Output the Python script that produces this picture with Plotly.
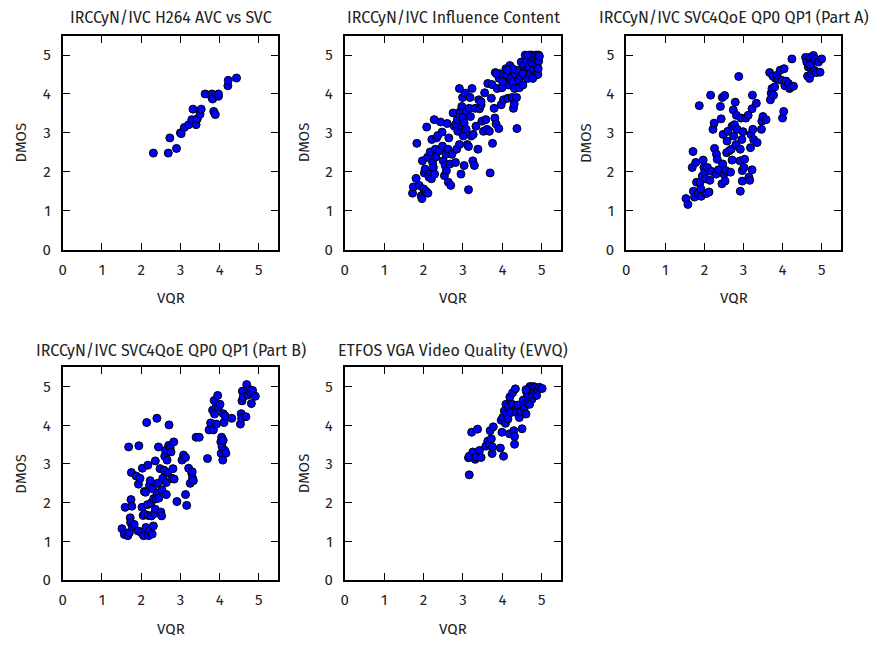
import plotly.graph_objects as go

titles = [
    "IRCCyN/IVC H264 AVC vs SVC",
    "IRCCyN/IVC Influence Content",
    "IRCCyN/IVC SVC4QoE QP0 QP1 (Part A)",
    "IRCCyN/IVC SVC4QoE QP0 QP1 (Part B)",
    "ETFOS VGA Video Quality (EVVQ)",
]
tick_vals = [0, 1, 2, 3, 4, 5]
x_label = "VQR"
y_label = "DMOS"

# Panel 1: IRCCyN/IVC H264 AVC vs SVC
p1_vqr = [2.31, 2.69, 2.73, 2.90, 3.00, 3.02, 3.10, 3.21, 3.29, 3.32, 3.40, 3.43, 3.50, 3.53,
          3.63, 3.80, 3.80, 3.82, 3.85, 3.89, 3.97, 3.97, 4.21, 4.22, 4.43]
p1_dmos = [2.48, 2.48, 2.87, 2.60, 3.00, 2.98, 3.14, 3.21, 3.34, 3.61, 3.21, 3.36, 3.48, 3.61,
           4.00, 4.00, 3.91, 3.87, 3.55, 3.47, 3.94, 4.00, 4.21, 4.35, 4.41]

# Panel 2: IRCCyN/IVC Influence Content
p2_vqr = [1.72, 1.74, 1.81, 1.83, 1.89, 1.94, 1.96, 1.97, 2.00, 2.02, 2.04, 2.06, 2.08, 2.10,
          2.11, 2.13, 2.14, 2.17, 2.20, 2.21, 2.23, 2.25, 2.27, 2.28, 2.30, 2.31, 2.33, 2.36,
          2.40, 2.43, 2.47, 2.48, 2.50, 2.53, 2.55, 2.57, 2.58, 2.60, 2.62, 2.64, 2.63, 2.67,
          2.69, 2.72, 2.75, 2.78, 2.81, 2.82, 2.84, 2.86, 2.87, 2.91, 2.91, 2.93, 2.95, 2.97,
          2.97, 2.99, 2.99, 3.01, 3.03, 3.03, 3.06, 3.08, 3.09, 3.11, 3.14, 3.14, 3.16, 3.18,
          3.19, 3.21, 3.23, 3.25, 3.26, 3.29, 3.31, 3.33, 3.38, 3.40, 3.42, 3.46, 3.48, 3.52,
          3.55, 3.58, 3.61, 3.63, 3.67, 3.69, 3.72, 3.74, 3.75, 3.79, 3.81, 3.82, 3.84, 3.87,
          3.91, 3.92, 3.94, 3.97, 3.99, 4.03, 4.06, 4.09, 4.13, 4.14, 4.16, 4.19, 4.22, 4.25,
          4.26, 4.28, 4.30, 4.31, 4.33, 4.36, 4.37, 4.39, 4.42, 4.43, 4.46, 4.48, 4.52, 4.54,
          4.56, 4.58, 4.60, 4.62, 4.64, 4.67, 4.69, 4.70, 4.73, 4.75, 4.77, 4.79, 4.81, 4.84,
          4.86, 4.87, 4.90, 4.92, 4.92, 4.94, 4.91, 4.77, 4.64, 4.52, 4.26, 4.13, 4.01, 3.85,
          3.46]
p2_dmos = [1.45, 1.61, 1.83, 2.73, 1.65, 1.38, 1.31, 2.28, 1.56, 1.97, 2.07, 1.50, 3.15, 2.37,
           1.45, 1.94, 1.86, 2.51, 1.82, 2.83, 2.24, 2.11, 3.34, 1.94, 2.58, 2.38, 2.87, 2.93,
           2.54, 3.28, 3.02, 2.66, 2.28, 1.90, 2.16, 2.45, 2.03, 3.24, 2.58, 2.87, 1.73, 2.20,
           1.65, 2.45, 3.51, 3.17, 2.24, 3.23, 2.58, 3.34, 3.04, 4.14, 2.70, 3.55, 1.94, 3.68,
           3.17, 3.38, 3.91, 2.92, 2.16, 3.25, 4.02, 3.09, 3.55, 2.70, 2.65, 1.54, 3.63, 3.91,
           3.42, 2.92, 4.14, 2.28, 2.96, 2.16, 3.63, 3.17, 2.58, 3.85, 3.62, 3.72, 3.30, 3.04,
           4.03, 3.34, 3.09, 4.27, 3.04, 1.97, 3.89, 4.24, 2.73, 3.63, 3.38, 4.55, 3.23, 4.14,
           3.11, 4.40, 4.52, 3.72, 4.16, 3.85, 4.35, 4.65, 4.48, 3.89, 4.23, 4.73, 4.40, 3.91,
           4.31, 3.63, 3.74, 4.14, 4.50, 3.91, 3.11, 4.61, 4.35, 4.16, 4.46, 4.82, 4.23, 4.73,
           4.48, 5.00, 4.61, 4.86, 4.40, 4.69, 5.00, 4.52, 4.86, 5.00, 4.78, 4.63, 4.94, 4.48,
           5.00, 4.73, 4.50, 5.00, 4.84, 4.97, 4.65, 4.40, 4.99, 4.52, 4.65, 4.61, 4.31, 4.52,
           3.80]

# Panel 3: IRCCyN/IVC SVC4QoE QP0 QP1 (Part A)
p3_vqr = [1.53, 1.58, 1.71, 1.69, 1.72, 1.75, 1.78, 1.80, 1.84, 1.87, 1.89, 1.91, 1.92, 1.95,
          1.97, 1.99, 2.01, 2.03, 2.05, 2.08, 2.12, 2.14, 2.16, 2.18, 2.22, 2.25, 2.26, 2.30,
          2.31, 2.33, 2.36, 2.41, 2.43, 2.45, 2.46, 2.47, 2.48, 2.50, 2.52, 2.53, 2.55, 2.57,
          2.58, 2.60, 2.64, 2.67, 2.69, 2.71, 2.71, 2.74, 2.75, 2.77, 2.79, 2.81, 2.82, 2.84,
          2.88, 2.91, 2.92, 2.92, 2.94, 2.96, 2.97, 2.97, 2.99, 3.01, 3.03, 3.06, 3.12, 3.14,
          3.16, 3.18, 3.19, 3.22, 3.23, 3.24, 3.22, 3.26, 3.33, 3.35, 3.46, 3.47, 3.50, 3.58,
          3.67, 3.69, 3.71, 3.73, 3.75, 3.77, 3.80, 3.82, 3.86, 3.89, 3.94, 3.98, 4.00, 4.03,
          4.04, 4.06, 4.09, 4.15, 4.18, 4.21, 4.24, 4.28, 4.59, 4.62, 4.64, 4.66, 4.69, 4.70,
          4.72, 4.74, 4.76, 4.79, 4.81, 4.83, 4.87, 4.92, 4.96, 5.00, 4.70]
p3_dmos = [1.31, 1.16, 2.52, 2.11, 1.50, 1.35, 2.24, 1.73, 1.44, 3.70, 1.73, 1.56, 1.37, 1.89,
           2.30, 2.11, 1.99, 1.82, 1.44, 2.11, 1.48, 1.78, 3.97, 2.01, 3.09, 3.25, 2.60, 1.94,
           2.45, 2.32, 2.05, 3.68, 3.36, 1.69, 3.91, 2.20, 2.96, 1.94, 3.96, 1.76, 2.03, 2.49,
           2.79, 3.04, 2.54, 1.99, 2.58, 2.30, 3.17, 3.59, 2.92, 3.21, 3.79, 2.70, 3.45, 3.09,
           4.45, 2.28, 2.58, 1.50, 3.38, 2.83, 2.03, 1.76, 3.03, 2.11, 2.32, 3.38, 3.45, 1.86,
           1.78, 2.62, 2.96, 3.62, 3.97, 3.09, 2.05, 2.83, 3.76, 2.75, 3.09, 3.30, 3.42, 3.34,
           4.55, 3.85, 4.02, 4.14, 4.46, 3.97, 4.18, 4.40, 4.48, 4.38, 4.61, 4.35, 3.38, 3.55,
           4.65, 4.21, 4.33, 4.27, 4.14, 4.18, 4.90, 4.20, 4.94, 4.82, 4.46, 4.69, 4.40, 4.94,
           4.69, 4.52, 4.82, 4.99, 4.61, 4.90, 4.55, 4.82, 4.56, 4.90, 4.75]

# Panel 4: IRCCyN/IVC SVC4QoE QP0 QP1 (Part B)
p4_vqr = [1.51, 1.57, 1.59, 1.66, 1.68, 1.70, 1.72, 1.73, 1.74, 1.75, 1.76, 1.77, 1.82, 1.87,
          1.92, 1.93, 1.94, 1.97, 2.00, 2.02, 2.03, 2.05, 2.06, 2.08, 2.09, 2.11, 2.12, 2.14,
          2.16, 2.17, 2.18, 2.19, 2.21, 2.21, 2.23, 2.25, 2.26, 2.28, 2.29, 2.31, 2.32, 2.34,
          2.36, 2.36, 2.38, 2.40, 2.41, 2.42, 2.44, 2.45, 2.48, 2.50, 2.52, 2.53, 2.55, 2.58,
          2.60, 2.62, 2.64, 2.64, 2.66, 2.68, 2.70, 2.71, 2.74, 2.76, 2.78, 2.81, 2.83, 2.84,
          2.91, 3.04, 3.08, 3.13, 3.13, 3.16, 3.21, 3.25, 3.29, 3.31, 3.33, 3.30, 3.40, 3.48,
          3.69, 3.73, 3.77, 3.82, 3.84, 3.86, 3.87, 3.90, 3.92, 3.95, 3.97, 4.01, 4.03, 4.04,
          4.05, 4.06, 4.08, 4.09, 4.11, 4.13, 4.14, 4.16, 4.09, 4.31, 4.53, 4.55, 4.56, 4.57,
          4.58, 4.60, 4.67, 4.69, 4.70, 4.72, 4.77, 4.79, 4.81, 4.84, 4.91]
p4_dmos = [1.33, 1.18, 1.88, 1.15, 3.44, 1.23, 1.61, 1.49, 2.08, 2.78, 1.91, 1.38, 1.44, 2.69,
           1.27, 2.48, 3.47, 2.63, 1.23, 1.88, 2.89, 1.67, 1.15, 2.29, 1.70, 2.27, 1.36, 4.07,
           1.95, 2.97, 1.67, 1.15, 2.44, 1.27, 2.57, 1.99, 1.66, 1.19, 2.36, 1.40, 2.11, 1.72,
           3.08, 1.83, 2.10, 4.18, 2.25, 2.50, 3.44, 2.12, 2.88, 1.76, 1.66, 2.33, 2.63, 2.84,
           3.20, 3.35, 2.21, 2.52, 3.10, 2.78, 3.48, 4.01, 3.42, 3.31, 2.63, 2.88, 3.57, 2.61,
           2.03, 3.10, 3.23, 3.17, 2.21, 1.93, 2.89, 2.50, 2.76, 2.63, 2.57, 2.80, 3.69, 3.69,
           3.14, 3.88, 4.06, 4.39, 3.88, 4.64, 4.29, 4.46, 4.03, 4.77, 4.46, 4.54, 3.57, 3.27,
           3.69, 3.45, 3.10, 4.30, 4.07, 3.35, 4.24, 3.28, 3.61, 4.18, 4.03, 4.30, 4.18, 4.63,
           4.88, 4.73, 4.22, 5.05, 4.88, 4.78, 4.92, 4.84, 4.56, 4.90, 4.75]

# Panel 5: ETFOS VGA Video Quality (EVVQ)
p5_vqr = [3.16, 3.14, 3.16, 3.22, 3.25, 3.31, 3.33, 3.37, 3.42, 3.46, 3.58, 3.63, 3.67, 3.69,
          3.72, 3.74, 3.75, 3.77, 3.95, 3.97, 3.99, 4.01, 4.03, 4.05, 4.08, 4.09, 4.11, 4.14,
          4.16, 4.18, 4.19, 4.22, 4.25, 4.26, 4.29, 4.31, 4.31, 4.33, 4.35, 4.36, 4.39, 4.43,
          4.46, 4.50, 4.53, 4.56, 4.60, 4.62, 4.64, 4.67, 4.70, 4.73, 4.75, 4.77, 4.79, 4.81,
          4.84, 4.87, 4.90, 4.94, 5.01, 4.69, 4.60]
p5_dmos = [2.72, 3.16, 3.20, 3.82, 3.31, 3.12, 3.18, 3.90, 3.35, 3.17, 3.46, 3.59, 3.51, 3.86,
           3.65, 3.27, 3.44, 3.96, 3.41, 4.13, 3.82, 4.20, 3.20, 4.37, 4.05, 4.54, 4.29, 4.16,
           4.48, 3.78, 4.73, 4.33, 4.54, 4.84, 3.86, 3.71, 3.51, 4.94, 4.45, 4.33, 4.52, 4.20,
           4.35, 3.91, 4.65, 4.46, 4.29, 4.84, 4.58, 4.75, 5.00, 4.88, 4.67, 4.80, 5.00, 4.88,
           4.97, 4.77, 4.92, 4.98, 4.95, 4.54, 4.92]

series = [(p1_vqr, p1_dmos), (p2_vqr, p2_dmos), (p3_vqr, p3_dmos),
          (p4_vqr, p4_dmos), (p5_vqr, p5_dmos)]

OFF = 8  # page body margin
W, H = 879 - OFF, 649 - OFF
# page-pixel boxes of plot areas (left, right, top, bottom)
boxes = [(59, 275.7, 36, 253), (342.3, 560, 36, 253), (625, 841, 36, 253),
         (59, 275.7, 372.3, 588.3), (342.3, 560, 372.3, 588.3)]
title_y = [18, 18, 18, 355, 355]
xlab_y = [302, 302, 302, 638, 638]
ylab_x = [17, 301, 584, 17, 301]


def px(x):
    return (x - OFF) / W


def py(y):
    return 1 - (y - OFF) / H


FONT = "Fira Sans, Noto Sans, Open Sans, sans-serif"
TXT = "#222222"
fig = go.Figure()
annotations = []
for i, ((xv, yv), (l, r, t, b), title) in enumerate(zip(series, boxes, titles)):
    n = "" if i == 0 else str(i + 1)
    fig.add_trace(go.Scatter(
        x=xv, y=yv, mode="markers", xaxis="x" + n, yaxis="y" + n,
        marker=dict(size=8, color="#0000ff", line=dict(color="#000000", width=1)),
        showlegend=False, cliponaxis=False,
    ))
    axcommon = dict(range=[0, 5.5], tickvals=tick_vals, showgrid=False, zeroline=False,
                    showline=True, linecolor="black", linewidth=2, mirror="ticks",
                    ticks="inside", ticklen=7, tickcolor="black", tickwidth=1,
                    tickfont=dict(size=15, color=TXT, family=FONT))
    fig.update_layout(**{
        "xaxis" + n: dict(axcommon, domain=[px(l), px(r)], anchor="y" + n,
                          ticklabelstandoff=5),
        "yaxis" + n: dict(axcommon, domain=[py(b), py(t)], anchor="x" + n,
                          ticklabelstandoff=7),
    })
    annotations.append(dict(text=title, x=px((l + r) / 2), y=py(title_y[i]),
                            xref="paper", yref="paper", showarrow=False,
                            xanchor="center", yanchor="middle",
                            font=dict(size=16, family=FONT, color=TXT)))
    annotations.append(dict(text=x_label, x=px((l + r) / 2), y=py(xlab_y[i]),
                            xref="paper", yref="paper", showarrow=False,
                            xanchor="center", yanchor="middle",
                            font=dict(size=15, family=FONT, color=TXT)))
    annotations.append(dict(text=y_label, x=px(ylab_x[i]), y=py((t + b) / 2),
                            xref="paper", yref="paper", showarrow=False, textangle=-90,
                            xanchor="center", yanchor="middle",
                            font=dict(size=15, family=FONT, color=TXT)))

fig.update_layout(width=W, height=H, margin=dict(l=0, r=0, t=0, b=0),
                  plot_bgcolor="white", paper_bgcolor="white",
                  annotations=annotations)
fig.write_html("out.html")
